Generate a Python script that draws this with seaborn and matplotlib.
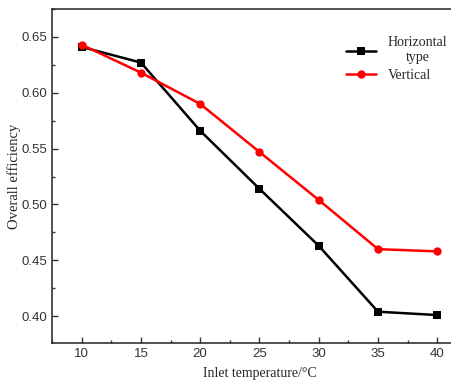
import matplotlib
matplotlib.use("Agg")
import matplotlib.pyplot as plt
import seaborn as sns
import pandas as pd
from matplotlib.ticker import MultipleLocator

temps = [10, 15, 20, 25, 30, 35, 40]
horizontal = [0.641, 0.627, 0.566, 0.514, 0.463, 0.404, 0.401]
vertical = [0.643, 0.618, 0.590, 0.547, 0.504, 0.460, 0.458]
series_names = ["Horizontal\ntype", "Vertical"]

df = pd.concat([
    pd.DataFrame({"T": temps, "eff": horizontal, "type": series_names[0]}),
    pd.DataFrame({"T": temps, "eff": vertical, "type": series_names[1]}),
])

sns.set_style("ticks")
plt.rcParams["font.family"] = ["Liberation Sans", "DejaVu Sans"]
plt.rcParams["xtick.direction"] = "in"
plt.rcParams["ytick.direction"] = "in"

fig = plt.figure(figsize=(4.51, 3.80), dpi=100)
ax = fig.add_axes([0.1153, 0.0974, 0.92, 0.879])

sns.lineplot(data=df, x="T", y="eff", hue="type", style="type",
             palette=["black", "red"], markers=["s", "o"], dashes=False,
             markersize=6, linewidth=1.8, markeredgewidth=0, ax=ax)

ax.set_xlim(7.5, 42.5)
ax.set_ylim(0.376, 0.675)
ax.set_xticks(temps)
ax.xaxis.set_minor_locator(MultipleLocator(2.5))
ax.yaxis.set_major_locator(MultipleLocator(0.05))
ax.yaxis.set_minor_locator(MultipleLocator(0.025))
ax.yaxis.set_major_formatter(matplotlib.ticker.FormatStrFormatter("%.2f"))
ax.tick_params(which="major", length=4, width=1, labelsize=9.5, colors="#333333", labelcolor="#333333")
ax.tick_params(which="minor", length=2.5, width=1, colors="#333333")
for s in ["left", "bottom", "top"]:
    ax.spines[s].set_color("#333333")
    ax.spines[s].set_linewidth(1.2)
ax.spines["right"].set_visible(False)

ax.set_xlabel("Inlet temperature/\u00b0C", family=["Liberation Serif"], fontsize=10, labelpad=5)
ax.set_ylabel("Overall efficiency", family=["Liberation Serif"], fontsize=10.5, labelpad=0)

leg = ax.legend(loc="upper left", bbox_to_anchor=(0.678, 0.955), frameon=False,
                prop={"family": "Liberation Serif", "size": 10},
                handlelength=2.2, handletextpad=0.8, labelspacing=0.3)
for t in leg.get_texts():
    t.set_multialignment("center")

fig.savefig("out.png", dpi=100)
